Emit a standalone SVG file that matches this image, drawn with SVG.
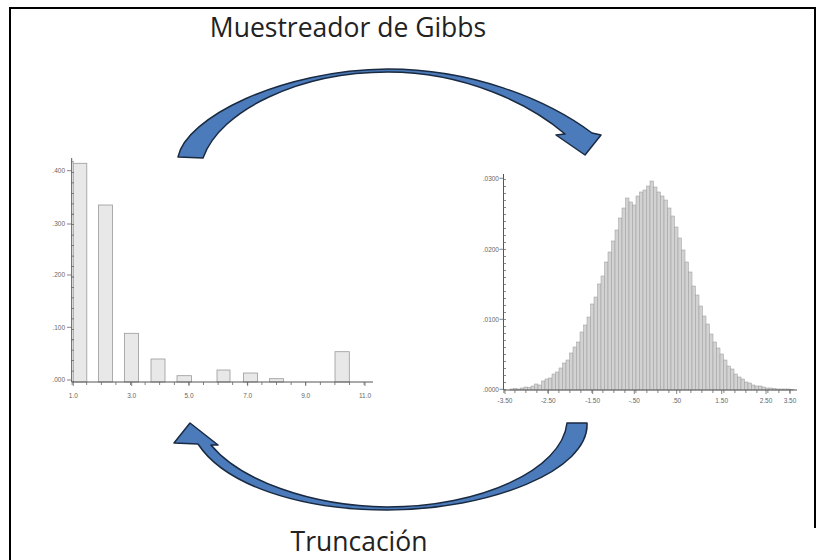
<svg xmlns="http://www.w3.org/2000/svg" width="824" height="560" viewBox="0 0 824 560">
<defs>
<style>
.frame{fill:none;stroke:#000;stroke-width:2}
.title{font-family:"Open Sans","Liberation Sans",sans-serif;font-size:26.5px;fill:#222}
.axis{stroke:#555;stroke-width:1;fill:none}
.tick{stroke:#666;fill:none}
.lbl{font-family:"Liberation Sans",Arial,sans-serif;font-size:6.5px;fill:#666}
.barA{fill:#e8e8e8;stroke:#9a9a9a;stroke-width:0.8}
.barB rect{fill:#d2d2d2;stroke:#999;stroke-width:0.5}
.arrow{fill:#4b7bbb;stroke:#1a2a40;stroke-width:1.5;stroke-linejoin:round}
</style>
<linearGradient id="g1" x1="0" y1="0" x2="0" y2="1">
<stop offset="0" stop-color="#5a8ccc"/>
<stop offset="1" stop-color="#3f6eaa"/>
</linearGradient>
</defs>
<rect width="824" height="560" fill="#fff"/>
<path class="frame" d="M10,560 V8 H815 V528"/>

<g id="label-gibbs"><text class="title" x="348" y="37" text-anchor="middle">Muestreador de Gibbs</text></g>
<g id="label-truncacion"><text class="title" x="359" y="551" text-anchor="middle">Truncación</text></g>

<g id="hist-discreto">
<rect class="barA" x="73.3" y="163.3" width="13.5" height="218.7"/>
<rect class="barA" x="98.5" y="205" width="14" height="177"/>
<rect class="barA" x="124.5" y="333.3" width="14" height="48.7"/>
<rect class="barA" x="151" y="359" width="14" height="23"/>
<rect class="barA" x="177" y="375.7" width="14.5" height="6.3"/>
<rect class="barA" x="217" y="370" width="13" height="12"/>
<rect class="barA" x="243.5" y="373" width="14" height="9"/>
<rect class="barA" x="269.5" y="378.7" width="14" height="3.3"/>
<rect class="barA" x="335" y="351.7" width="14.3" height="30.3"/>
<line class="axis" x1="71.7" y1="158" x2="71.7" y2="382"/>
<line class="axis" x1="71.7" y1="382" x2="373" y2="382"/>
<line class="tick" x1="72.5" y1="382" x2="72.5" y2="160" stroke-width="3" stroke-dasharray="0.8 9.66"/>
<line class="tick" x1="71.7" y1="383.5" x2="373" y2="383.5" stroke-width="3" stroke-dasharray="0.8 13.8"/>
<path class="tick" stroke-width="0.8" d="M67,170.7H71.7M67,224H71.7M67,275H71.7M67,327.3H71.7M67,380H71.7M73.3,382v4M131.7,382v4M189,382v4M247.7,382v4M305.7,382v4M365,382v4"/>
<g class="lbl" text-anchor="end">
<text x="65" y="173">.400</text>
<text x="65" y="226.3">.300</text>
<text x="65" y="277.3">.200</text>
<text x="65" y="329.6">.100</text>
<text x="65" y="382.3">.000</text>
</g>
<g class="lbl" text-anchor="middle">
<text x="73.3" y="397.5">1.0</text>
<text x="131.7" y="397.5">3.0</text>
<text x="189" y="397.5">5.0</text>
<text x="247.7" y="397.5">7.0</text>
<text x="305.7" y="397.5">9.0</text>
<text x="365" y="397.5">11.0</text>
</g>
</g>

<g id="hist-normal">
<g class="barB">
<rect x="510" y="389" width="3.5" height="1"/>
<rect x="513.5" y="388.5" width="3.5" height="1.5"/>
<rect x="517" y="389" width="3.5" height="1"/>
<rect x="520.5" y="388" width="3.5" height="2"/>
<rect x="524" y="387" width="3.5" height="3"/>
<rect x="527.5" y="387.5" width="3.5" height="2.5"/>
<rect x="531" y="386" width="3.5" height="4"/>
<rect x="534.5" y="384" width="3.5" height="6"/>
<rect x="538" y="385" width="3.5" height="5"/>
<rect x="541.5" y="381" width="3.5" height="9"/>
<rect x="545" y="379" width="3.5" height="11"/>
<rect x="548.5" y="378" width="3.5" height="12"/>
<rect x="552" y="374" width="3.5" height="16"/>
<rect x="555.5" y="372" width="3.5" height="18"/>
<rect x="559" y="368" width="3.5" height="22"/>
<rect x="562.5" y="363" width="3.5" height="27"/>
<rect x="566" y="360" width="3.5" height="30"/>
<rect x="569.5" y="353" width="3.5" height="37"/>
<rect x="573" y="347" width="3.5" height="43"/>
<rect x="576.5" y="342" width="3.5" height="48"/>
<rect x="580" y="332" width="3.5" height="58"/>
<rect x="583.5" y="325" width="3.5" height="65"/>
<rect x="587" y="317" width="3.5" height="73"/>
<rect x="590.5" y="304" width="3.5" height="86"/>
<rect x="594" y="297" width="3.5" height="93"/>
<rect x="597.5" y="284" width="3.5" height="106"/>
<rect x="601" y="276" width="3.5" height="114"/>
<rect x="604.5" y="262" width="3.5" height="128"/>
<rect x="608" y="252" width="3.5" height="138"/>
<rect x="611.5" y="241" width="3.5" height="149"/>
<rect x="615" y="230" width="3.5" height="160"/>
<rect x="618.5" y="218" width="3.5" height="172"/>
<rect x="622" y="208" width="3.5" height="182"/>
<rect x="625.5" y="198" width="3.5" height="192"/>
<rect x="629" y="202" width="3.5" height="188"/>
<rect x="632.5" y="205" width="3.5" height="185"/>
<rect x="636" y="196" width="3.5" height="194"/>
<rect x="639.5" y="192" width="3.5" height="198"/>
<rect x="643" y="190" width="3.5" height="200"/>
<rect x="646.5" y="186" width="3.5" height="204"/>
<rect x="650" y="181" width="3.5" height="209"/>
<rect x="653.5" y="187" width="3.5" height="203"/>
<rect x="657" y="192" width="3.5" height="198"/>
<rect x="660.5" y="196" width="3.5" height="194"/>
<rect x="664" y="200" width="3.5" height="190"/>
<rect x="667.5" y="208" width="3.5" height="182"/>
<rect x="671" y="216" width="3.5" height="174"/>
<rect x="674.5" y="227" width="3.5" height="163"/>
<rect x="678" y="238" width="3.5" height="152"/>
<rect x="681.5" y="250" width="3.5" height="140"/>
<rect x="685" y="262" width="3.5" height="128"/>
<rect x="688.5" y="272" width="3.5" height="118"/>
<rect x="692" y="286" width="3.5" height="104"/>
<rect x="695.5" y="295" width="3.5" height="95"/>
<rect x="699" y="306" width="3.5" height="84"/>
<rect x="702.5" y="316" width="3.5" height="74"/>
<rect x="706" y="324" width="3.5" height="66"/>
<rect x="709.5" y="334" width="3.5" height="56"/>
<rect x="713" y="342" width="3.5" height="48"/>
<rect x="716.5" y="348" width="3.5" height="42"/>
<rect x="720" y="354" width="3.5" height="36"/>
<rect x="723.5" y="360" width="3.5" height="30"/>
<rect x="727" y="366" width="3.5" height="24"/>
<rect x="730.5" y="369" width="3.5" height="21"/>
<rect x="734" y="374" width="3.5" height="16"/>
<rect x="737.5" y="377" width="3.5" height="13"/>
<rect x="741" y="379" width="3.5" height="11"/>
<rect x="744.5" y="382" width="3.5" height="8"/>
<rect x="748" y="383" width="3.5" height="7"/>
<rect x="751.5" y="385" width="3.5" height="5"/>
<rect x="755" y="386" width="3.5" height="4"/>
<rect x="758.5" y="386" width="3.5" height="4"/>
<rect x="762" y="387" width="3.5" height="3"/>
<rect x="765.5" y="388" width="3.5" height="2"/>
<rect x="769" y="388" width="3.5" height="2"/>
<rect x="772.5" y="388.5" width="3.5" height="1.5"/>
<rect x="776" y="389" width="3.5" height="1"/>
<rect x="779.5" y="389" width="3.5" height="1"/>
<rect x="783" y="389" width="3.5" height="1"/>
<rect x="786.5" y="389" width="3.5" height="1"/>
<rect x="790" y="389.4" width="3.5" height="0.6"/>
</g>
<line class="axis" x1="503.5" y1="174" x2="503.5" y2="390"/>
<line class="axis" x1="503.5" y1="390" x2="797" y2="390"/>
<line class="tick" x1="504.5" y1="390" x2="504.5" y2="176" stroke-width="3" stroke-dasharray="0.8 6.2"/>
<line class="tick" x1="503.5" y1="391.5" x2="797" y2="391.5" stroke-width="3" stroke-dasharray="0.8 10.2"/>
<path class="tick" stroke-width="0.8" d="M499.5,178.3H503.5M499.5,249.3H503.5M499.5,319.3H503.5M499.5,389.3H503.5M505,390v4M548.3,390v4M592.7,390v4M634.3,390v4M676.7,390v4M721.7,390v4M766,390v4M790,390v4"/>
<g class="lbl" text-anchor="end">
<text x="499" y="180.6">.0300</text>
<text x="499" y="251.6">.0200</text>
<text x="499" y="321.6">.0100</text>
<text x="499" y="391.6">.0000</text>
</g>
<g class="lbl" text-anchor="middle">
<text x="505" y="402.5">-3.50</text>
<text x="548.3" y="402.5">-2.50</text>
<text x="592.7" y="402.5">-1.50</text>
<text x="634.3" y="402.5">-.50</text>
<text x="676.7" y="402.5">.50</text>
<text x="721.7" y="402.5">1.50</text>
<text x="766" y="402.5">2.50</text>
<text x="790" y="402.5">3.50</text>
</g>
</g>

<g id="connectors">
<path id="arrow-gibbs" class="arrow" fill="url(#g1)" d="M178,157 C186,118 280,70 388,69 C470,69 545,98 592,133 L601,135 L585,155 L556,135 L565,134 C530,104 465,72 388,72 C300,72 220,110 203,158 Z"/>
<path id="arrow-truncacion" class="arrow" fill="url(#g1)" d="M567,423 L587,423 C590,470 490,510 387,510 C300,510 225,485 198,444 L174,443 L190,423 L218,445 L211,445 C240,480 310,506 387,507 C480,507 562,470 567,423 Z"/>
</g>
</svg>
